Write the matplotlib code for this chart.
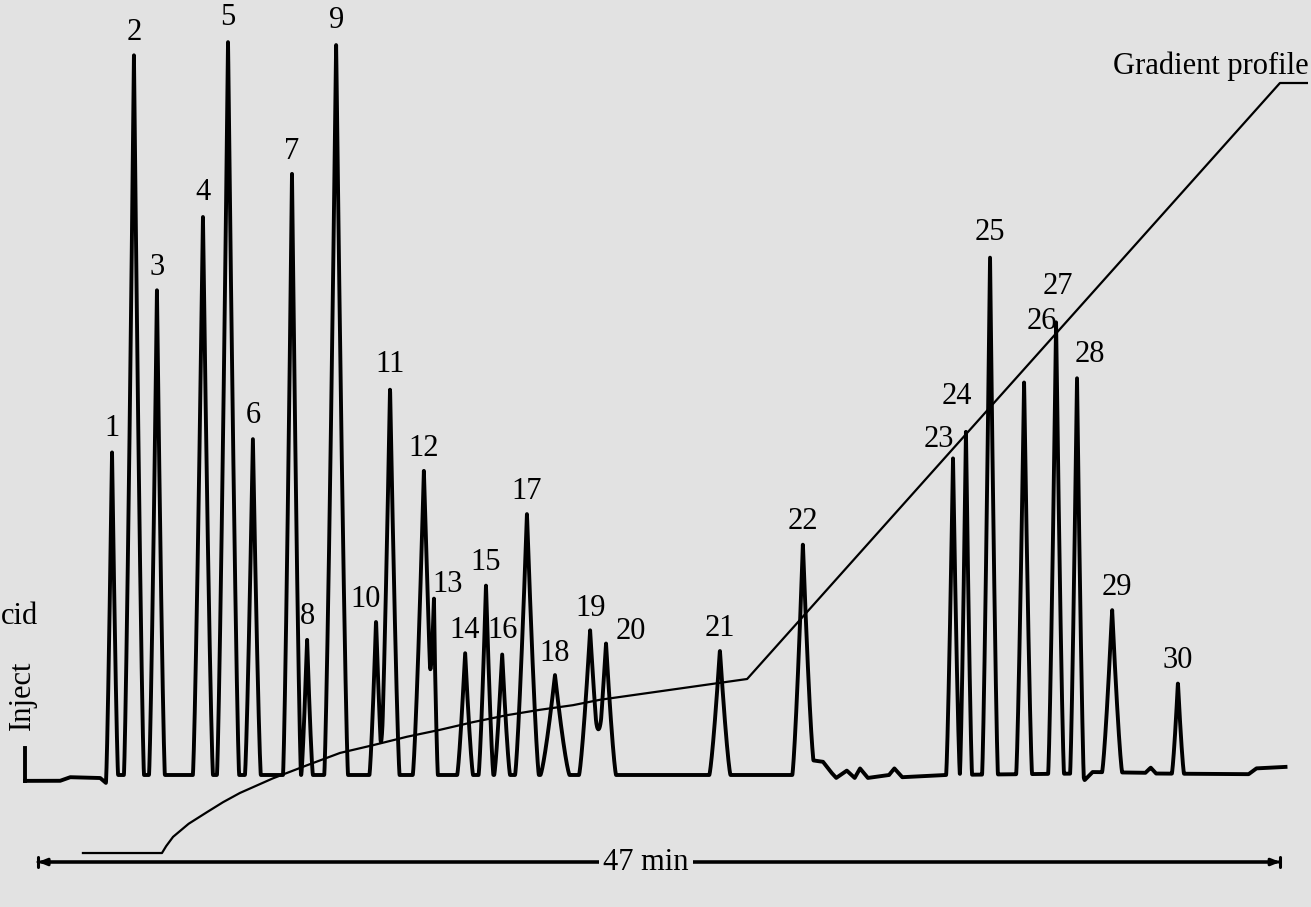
import numpy as np
import matplotlib.pyplot as plt

plt.rcParams["font.family"] = ["Liberation Serif", "DejaVu Serif"]

# peak table: retention time (min), height (% of peak 5), half base width (min)
peak_ids = list(range(1, 31))
retention = [2.80, 3.63, 4.50, 6.24, 7.19, 8.13, 9.61, 10.18, 11.28, 12.79,
             13.32, 14.60, 14.98, 16.16, 16.95, 17.56, 18.50, 19.56, 20.89, 21.49,
             25.80, 28.94, 34.62, 35.11, 36.02, 37.31, 38.52, 39.31, 40.64, 43.13]
height = [44.6, 98.0, 66.0, 76.2, 100.0, 45.9, 81.9, 18.6, 99.6, 21.1,
          52.8, 41.4, 22.4, 16.7, 25.9, 16.6, 35.6, 13.6, 19.7, 18.0,
          17.0, 31.3, 43.1, 46.9, 70.7, 53.5, 61.6, 54.4, 22.2, 12.4]
half_width = [0.23, 0.38, 0.30, 0.38, 0.42, 0.30, 0.34, 0.22, 0.45, 0.25,
              0.36, 0.42, 0.15, 0.30, 0.28, 0.30, 0.45, 0.55, 0.42, 0.38,
              0.40, 0.40, 0.26, 0.23, 0.30, 0.30, 0.30, 0.26, 0.38, 0.23]

# baseline drift between the peaks (min, %)
base_t = [-0.49, 0.83, 1.21, 2.35, 2.61, 2.92, 28.9, 29.3, 29.7, 30.0, 30.2,
          30.6, 30.9, 31.1, 31.4, 32.2, 32.4, 32.7, 34.3, 39.5, 39.6, 39.9,
          41.9, 42.1, 42.3, 45.8, 46.1, 47.2]
base_h = [-0.8, -0.8, -0.3, -0.4, -1.2, 0.0, 0.0, 2.0, 1.8, 0.4, -0.4,
          0.6, -0.4, 0.9, -0.4, 0.0, 0.9, -0.3, 0.0, 0.2, -0.7, 0.4,
          0.3, 1.0, 0.2, 0.1, 0.9, 1.1]

# inject mark
inject_t = -0.49
inject_top = 3.7

# gradient programme (min, %B)
grad_t = [1.70, 4.69, 4.85, 5.11, 5.70, 6.39, 7.00, 7.64, 8.89, 10.18, 11.43,
          12.67, 13.96, 15.21, 16.46, 17.74, 18.99, 20.24, 21.26, 23.53, 26.83,
          46.99, 48.01]
grad_b = [0.0, 0.0, 0.9, 2.1, 3.8, 5.3, 6.6, 7.8, 9.7, 11.4, 13.0,
          14.0, 15.1, 16.0, 17.0, 17.9, 18.6, 19.2, 19.9, 21.0, 22.6,
          100.0, 100.0]

run_length = 47

# label nudges (pixels) where the number is not straight above its peak
label_shift = {10: (-10, 20), 13: (14, 26), 20: (25, 11), 23: (-14, 19),
               24: (-9, 34), 26: (18, 59), 27: (2, 35), 28: (13, 19), 29: (5, 22)}

bg = "#e2e2e2"
fs = 22
fig = plt.figure(figsize=(13.11, 9.07), dpi=100)
fig.patch.set_facecolor(bg)
ax = fig.add_axes([0, 0, 1, 1])
ax.set_facecolor(bg)
ax.set_xlim(-1.438, 48.165)
ax.set_ylim(-17.96, 105.44)
ax.axis("off")

ax2 = ax.twinx()
ax2.set_ylim(-7.01, 110.78)
ax2.axis("off")

# build the detector trace from the peak table
t = np.linspace(base_t[0], base_t[-1], 8000)
signal = np.interp(t, base_t, base_h)
for rt, h, w in zip(retention, height, half_width):
    signal += h * np.clip(1 - np.abs(t - rt) / w, 0, None) ** 1.3

ax.plot(t, signal, color="black", lw=2.8, solid_joinstyle="round")
ax.plot([inject_t, inject_t], [inject_top, base_h[0]], color="black", lw=2.8)

for pid, rt, h in zip(peak_ids, retention, height):
    apex = h + np.interp(rt, base_t, base_h)
    dx, dy = label_shift.get(pid, (0, 22))
    ax.annotate(str(pid), xy=(rt, apex), xytext=(dx, dy),
                textcoords="offset pixels", ha="center", va="center",
                fontsize=fs)

# gradient profile
ax2.plot(grad_t, grad_b, color="black", lw=1.6, solid_joinstyle="round")
ax2.annotate("Gradient profile", xy=(grad_t[-2], grad_b[-2]), xytext=(29, 17),
             textcoords="offset pixels", ha="right", va="center", fontsize=fs)

# side labels
ax.annotate("Inject", xy=(inject_t, inject_top), xytext=(-3, 52),
            textcoords="offset pixels", rotation=90, ha="center", va="center",
            fontsize=fs)
ax.text(0.029, 1 - 617 / 907, "cid", transform=ax.transAxes, ha="right",
        va="center", fontsize=fs)

# run-length bar
yb = 1 - 862 / 907
ax.annotate("", xy=(0, yb), xytext=(run_length, yb),
            xycoords=("data", "axes fraction"),
            arrowprops=dict(arrowstyle="|-|, widthA=0.35, widthB=0.35",
                            lw=2.2, color="black", shrinkA=0, shrinkB=0))
ax.annotate("", xy=(0, yb), xytext=(run_length, yb),
            xycoords=("data", "axes fraction"),
            arrowprops=dict(arrowstyle="<|-|>, head_length=0.5, head_width=0.2",
                            lw=2.2, color="black", shrinkA=0, shrinkB=0))
ax.text(23.0, yb, "47 min", transform=ax.get_xaxis_transform(),
        ha="center", va="center", fontsize=fs,
        bbox=dict(facecolor=bg, edgecolor="none", pad=3))

fig.savefig("out.png", dpi=100, facecolor=bg)
